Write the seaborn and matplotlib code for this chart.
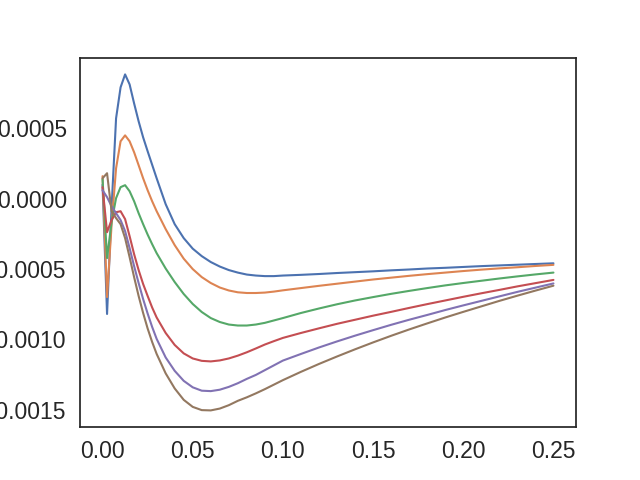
import numpy as np
import pandas as pd
import matplotlib
matplotlib.use("Agg")
import matplotlib.pyplot as plt
import seaborn as sns

# x positions (dense at the start where the curves wiggle)
x = [0.0, 0.0025, 0.005, 0.0075, 0.01, 0.0125, 0.015, 0.0175, 0.02, 0.0225,
     0.025, 0.0275, 0.03,
     0.035, 0.04, 0.045, 0.05, 0.055, 0.06, 0.065, 0.07, 0.075, 0.08,
     0.085, 0.09, 0.095, 0.10,
     0.11, 0.12, 0.13, 0.14, 0.15, 0.16, 0.17, 0.18, 0.19, 0.20,
     0.21, 0.22, 0.23, 0.24, 0.25]

# values, in units of 1e-4
s1 = [0.99, -8.19, -0.67, 5.71, 7.91, 8.83, 8.12, 6.77, 5.50, 4.36, 3.37, 2.41, 1.45,
      -0.39, -1.81, -2.80, -3.55, -4.08, -4.50, -4.82, -5.07, -5.25, -5.39, -5.46, -5.50, -5.50, -5.46,
      -5.41, -5.35, -5.28, -5.22, -5.16, -5.09, -5.03, -4.96, -4.91, -4.85, -4.79, -4.74, -4.69, -4.64, -4.59]
s2 = [1.60, -6.99, -1.88, 2.16, 4.08, 4.50, 4.08, 3.30, 2.38, 1.45, 0.60, -0.18, -0.89,
      -2.16, -3.30, -4.26, -5.00, -5.57, -5.99, -6.31, -6.52, -6.65, -6.70, -6.70, -6.67, -6.60, -6.51,
      -6.35, -6.19, -6.04, -5.89, -5.74, -5.61, -5.48, -5.36, -5.25, -5.14, -5.04, -4.95, -4.87, -4.78, -4.70]
s3 = [1.38, -4.22, -1.67, 0.04, 0.82, 0.96, 0.53, -0.18, -1.03, -1.81, -2.55, -3.23, -3.87,
      -4.96, -5.92, -6.77, -7.48, -8.05, -8.48, -8.76, -8.94, -9.01, -9.01, -8.94, -8.82, -8.65, -8.48,
      -8.12, -7.80, -7.50, -7.23, -6.99, -6.76, -6.55, -6.35, -6.16, -5.99, -5.83, -5.67, -5.52, -5.38, -5.25]
s4 = [0.82, -2.38, -1.52, -0.96, -0.89, -1.45, -2.66, -3.94, -5.07, -6.06, -6.91, -7.73, -8.44,
      -9.54, -10.39, -10.99, -11.35, -11.52, -11.56, -11.49, -11.35, -11.15, -10.91, -10.64, -10.36, -10.12, -9.89,
      -9.54, -9.21, -8.89, -8.60, -8.31, -8.04, -7.76, -7.49, -7.23, -6.97, -6.72, -6.48, -6.23, -6.00, -5.77]
s5 = [0.60, 0.11, -0.53, -1.03, -1.52, -2.30, -3.51, -4.79, -5.99, -7.13, -8.16, -9.11, -9.96,
      -11.28, -12.23, -12.94, -13.40, -13.64, -13.67, -13.57, -13.37, -13.11, -12.80, -12.52, -12.18, -11.84, -11.50,
      -11.03, -10.57, -10.14, -9.73, -9.34, -8.96, -8.60, -8.26, -7.91, -7.58, -7.26, -6.94, -6.62, -6.32, -6.02]
s6 = [1.45, 1.81, -0.89, -1.38, -1.81, -2.80, -4.15, -5.57, -6.91, -8.12, -9.22, -10.18, -11.03,
      -12.41, -13.48, -14.29, -14.79, -15.02, -15.04, -14.91, -14.67, -14.36, -14.11, -13.83, -13.53, -13.21, -12.89,
      -12.30, -11.74, -11.21, -10.70, -10.21, -9.74, -9.29, -8.86, -8.44, -8.04, -7.65, -7.26, -6.89, -6.53, -6.18]

series = [s1, s2, s3, s4, s5, s6]

sns.set_theme(style="white", font_scale=1.5)
plt.rcParams["font.family"] = ["Liberation Sans", "DejaVu Sans"]

frames = []
for i, s in enumerate(series):
    frames.append(pd.DataFrame({"x": x, "y": np.array(s) * 1e-4, "k": i}))
df = pd.concat(frames, ignore_index=True)

fig, ax = plt.subplots(figsize=(6.4, 4.8), dpi=100)
sns.lineplot(data=df, x="x", y="y", hue="k", palette="deep", legend=False, ax=ax)
ax.set_xlabel("")
ax.set_ylabel("")
ax.set_xticks([0.0, 0.05, 0.10, 0.15, 0.20, 0.25])
ax.set_yticks([0.0005, 0.0, -0.0005, -0.0010, -0.0015])

fig.savefig("out.png", dpi=100)
